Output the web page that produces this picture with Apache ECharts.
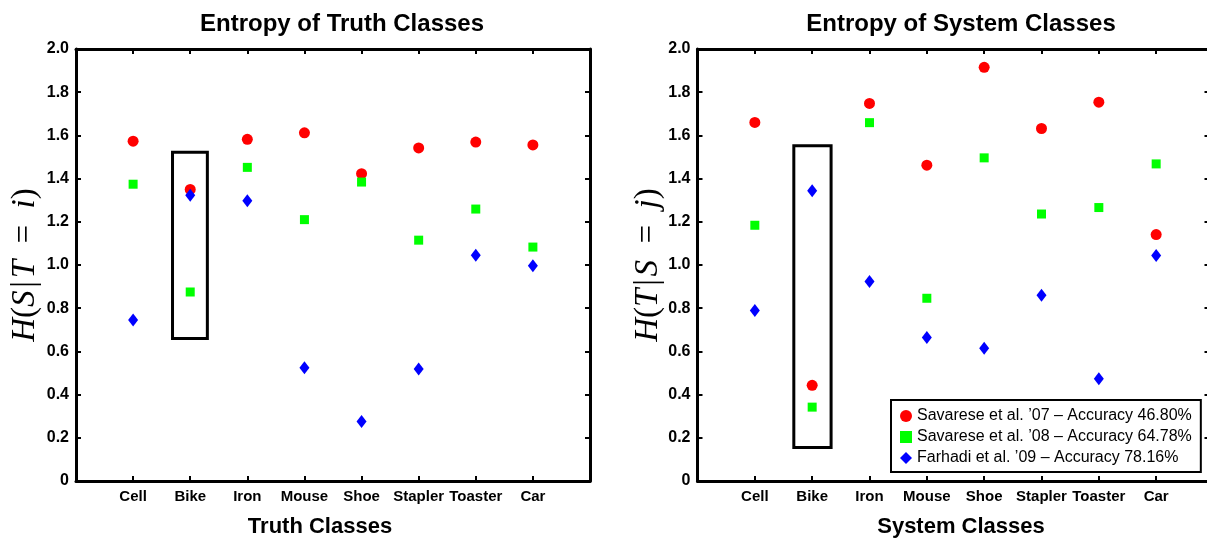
<!DOCTYPE html>
<html>
<head>
<meta charset="utf-8">
<script src="https://cdn.jsdelivr.net/npm/echarts@6/dist/echarts.min.js"></script>
<style>
html,body{margin:0;padding:0;background:#fff;}
#c{width:1207px;height:539px;}
</style>
</head>
<body>
<div id="c"></div>
<script>
// ---- data ----
const categories = ['Cell', 'Bike', 'Iron', 'Mouse', 'Shoe', 'Stapler', 'Toaster', 'Car'];
const yTicks = [0, 0.2, 0.4, 0.6, 0.8, 1.0, 1.2, 1.4, 1.6, 1.8, 2.0];
const seriesNames = [
  'Savarese et al. \u201907 \u2013 Accuracy 46.80%',
  'Savarese et al. \u201908 \u2013 Accuracy 64.78%',
  'Farhadi et al. \u201909 \u2013 Accuracy 78.16%'
];
// Entropy of Truth Classes  H(S|T=i)
const truthSav07 = [1.573, 1.350, 1.582, 1.612, 1.423, 1.542, 1.569, 1.556];
const truthSav08 = [1.374, 0.875, 1.452, 1.210, 1.384, 1.115, 1.259, 1.083];
const truthFar09 = [0.745, 1.323, 1.298, 0.524, 0.276, 0.518, 1.045, 0.996];
// Entropy of System Classes  H(T|S=j)
const sysSav07 = [1.660, 0.443, 1.748, 1.462, 1.915, 1.632, 1.754, 1.141];
const sysSav08 = [1.184, 0.342, 1.659, 0.846, 1.496, 1.236, 1.266, 1.468];
const sysFar09 = [0.789, 1.344, 0.924, 0.664, 0.615, 0.860, 0.473, 1.044];
// highlight boxes around "Bike" [xFrom, yTop, xTo, yBottom]
const truthBox = [1.69, 1.522, 2.30, 0.660];
const sysBox = [1.68, 1.552, 2.33, 0.155];

const FONT = "'Liberation Sans', Arial, Helvetica, sans-serif";
const SERIF = "'Liberation Serif', 'Times New Roman', serif";
const pts = arr => arr.map((v, i) => [i + 1, v]);

const axLine = { show: true, onZero: false, lineStyle: { color: '#000', width: 3 } };
const axTick = { show: true, inside: true, length: 5, lineStyle: { color: '#000', width: 2 } };
const axTickR = { show: true, inside: true, length: 9, lineStyle: { color: '#000', width: 2 } };

function xAxes(gi) {
  return [
    {
      type: 'value', gridIndex: gi, min: 0, max: 9, interval: 1, position: 'bottom',
      axisLine: axLine, axisTick: axTick,
      axisLabel: {
        show: true, margin: 8, color: '#000', fontFamily: FONT, fontWeight: 'bold', fontSize: 15,
        formatter: v => (v >= 1 && v <= categories.length) ? categories[v - 1] : ''
      },
      splitLine: { show: false }
    },
    {
      type: 'value', gridIndex: gi, min: 0, max: 9, interval: 1, position: 'top',
      axisLine: axLine, axisTick: axTick,
      axisLabel: { show: false },
      splitLine: { show: false }
    }
  ];
}
function yAxes(gi, nameRich, gap, rightTick) {
  return [
    {
      type: 'value', gridIndex: gi, min: yTicks[0], max: yTicks[yTicks.length - 1], interval: 0.2, position: 'left',
      axisLine: axLine, axisTick: axTick,
      axisLabel: {
        show: true, margin: 7, color: '#000', fontFamily: FONT, fontWeight: 'bold', fontSize: 16,
        formatter: v => (Math.abs(v) < 1e-9 ? '0' : v.toFixed(1))
      },
      splitLine: { show: false },
      name: nameRich, nameLocation: 'middle', nameRotate: 90, nameGap: gap,
      nameTextStyle: {
        color: '#000', fontSize: 33,
        rich: {
          i: { fontFamily: SERIF, fontStyle: 'italic', fontSize: 33, color: '#000' },
          u: { fontFamily: SERIF, fontSize: 33, color: '#000' }
        }
      }
    },
    {
      type: 'value', gridIndex: gi, min: yTicks[0], max: yTicks[yTicks.length - 1], interval: 0.2, position: 'right',
      axisLine: axLine, axisTick: rightTick,
      axisLabel: { show: false },
      splitLine: { show: false }
    }
  ];
}

const symRed = { symbol: 'circle', symbolSize: 11, itemStyle: { color: '#ff0000', opacity: 1 } };
const symGreen = { symbol: 'rect', symbolSize: 9, itemStyle: { color: '#00ff00', opacity: 1 } };
const symBlue = { symbol: 'diamond', symbolSize: [10, 13], itemStyle: { color: '#0000ff', opacity: 1 } };

function boxArea(b) {
  return {
    silent: true,
    itemStyle: { color: 'rgba(0,0,0,0)', borderColor: '#000', borderWidth: 3, opacity: 1 },
    data: [[{ coord: [b[0], b[1]] }, { coord: [b[2], b[3]] }]]
  };
}

function mk(name, data, sym, xi, yi, area) {
  const s = Object.assign({ type: 'scatter', name: name, data: pts(data), xAxisIndex: xi, yAxisIndex: yi, z: 3 }, sym);
  if (area) s.markArea = boxArea(area);
  return s;
}

const H = '\u200A';
const E = '\u2002';
const leftName = '{i|H}{u|(}{i|S}{u|' + H + '|' + H + '}{i|T}{u|' + E + '=' + E + '}{i|i}{u|)}';
const rightName = '{i|H}{u|(}{i|T}{u|' + H + '|' + H + '}{i|S}{u|' + E + '=' + E + '}{i|j}{u|)}';

const option = {
  animation: false,
  backgroundColor: '#fff',
  textStyle: { fontFamily: FONT },
  title: [
    { text: 'Entropy of Truth Classes', left: 337, top: 7, textAlign: 'center',
      textStyle: { fontFamily: FONT, fontWeight: 'bold', fontSize: 24, color: '#000' } },
    { text: 'Entropy of System Classes', left: 956, top: 7, textAlign: 'center',
      textStyle: { fontFamily: FONT, fontWeight: 'bold', fontSize: 24, color: '#000' } },
    { text: 'Truth Classes', left: 315, top: 511, textAlign: 'center',
      textStyle: { fontFamily: FONT, fontWeight: 'bold', fontSize: 22, color: '#000' } },
    { text: 'System Classes', left: 956, top: 511, textAlign: 'center',
      textStyle: { fontFamily: FONT, fontWeight: 'bold', fontSize: 22, color: '#000' } }
  ],
  grid: [
    { left: 76, top: 49, width: 514, height: 432, containLabel: false, outerBoundsMode: 'none' },
    { left: 697.5, top: 49, width: 516, height: 432, containLabel: false, outerBoundsMode: 'none' }
  ],
  xAxis: [].concat(xAxes(0), xAxes(1)),
  yAxis: [].concat(yAxes(0, leftName, 34, axTick), yAxes(1, rightName, 31, axTickR)),
  legend: {
    orient: 'vertical', left: 891, top: 400,
    padding: [8, 9, 6, 9], itemGap: 5, itemWidth: 12, itemHeight: 12,
    borderColor: '#000', borderWidth: 2, backgroundColor: '#fff',
    textStyle: { fontFamily: FONT, fontSize: 16, color: '#000' },
    data: [
      { name: seriesNames[0], icon: 'circle' },
      { name: seriesNames[1], icon: 'rect' },
      { name: seriesNames[2], icon: 'diamond' }
    ]
  },
  series: [
    mk(seriesNames[0], truthSav07, symRed, 0, 0, truthBox),
    mk(seriesNames[1], truthSav08, symGreen, 0, 0),
    mk(seriesNames[2], truthFar09, symBlue, 0, 0),
    mk(seriesNames[0], sysSav07, symRed, 2, 2, sysBox),
    mk(seriesNames[1], sysSav08, symGreen, 2, 2),
    mk(seriesNames[2], sysFar09, symBlue, 2, 2)
  ]
};

const chart = echarts.init(document.getElementById('c'), null, { renderer: 'canvas' });
chart.setOption(option);
</script>
</body>
</html>
